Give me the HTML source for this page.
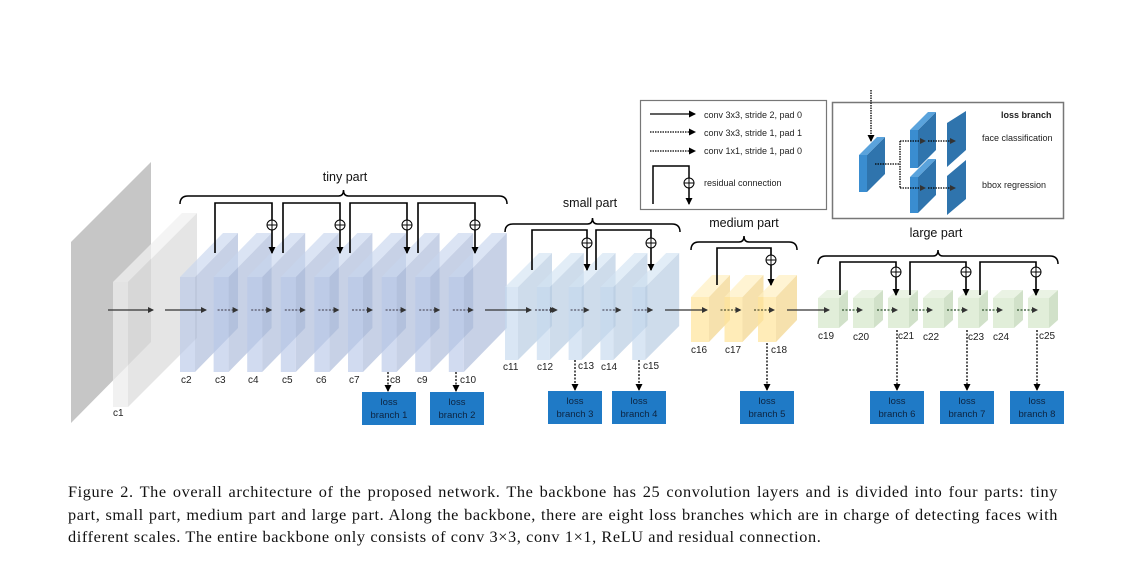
<!DOCTYPE html>
<html><head><meta charset="utf-8"><style>
body{margin:0;background:#fff;width:1124px;height:572px;overflow:hidden;position:relative}
svg{position:absolute;left:0;top:0}
svg text{font-family:"Liberation Sans",sans-serif;}
.cap{position:absolute;left:68px;top:481px;width:990px;font-family:"Liberation Serif",serif;font-size:16.3px;letter-spacing:0.6px;line-height:22.5px;color:#111}
.cap div{text-align:justify;text-align-last:justify;white-space:nowrap}
.cap div.last{text-align-last:left}
</style></head><body>
<svg id="s" width="1124" height="572" viewBox="0 0 1124 572">
<defs>
<marker id="ah" markerWidth="6" markerHeight="6" refX="5" refY="3" orient="auto" markerUnits="userSpaceOnUse"><path d="M0,0 L6,3 L0,6z" fill="#333"/></marker>
<marker id="ak" markerWidth="7" markerHeight="7" refX="6" refY="3.5" orient="auto" markerUnits="userSpaceOnUse"><path d="M0,0 L7,3.5 L0,7z" fill="#000"/></marker>
</defs>
<g id="shapes"></g>
<g id="lines" stroke="#000" fill="none"></g>
<g font-size="10" fill="#222">
<text x="113" y="416">c1</text>
<text x="181" y="383">c2</text><text x="215" y="383">c3</text><text x="248" y="383">c4</text><text x="282" y="383">c5</text><text x="316" y="383">c6</text><text x="349" y="383">c7</text><text x="390" y="383">c8</text><text x="417" y="383">c9</text><text x="460" y="383">c10</text>
<text x="503" y="370">c11</text><text x="537" y="370">c12</text><text x="578" y="369">c13</text><text x="601" y="370">c14</text><text x="643" y="369">c15</text>
<text x="691" y="353">c16</text><text x="725" y="353">c17</text><text x="771" y="353">c18</text>
<text x="818" y="339">c19</text><text x="853" y="340">c20</text><text x="898" y="339">c21</text><text x="923" y="340">c22</text><text x="968" y="340">c23</text><text x="993" y="340">c24</text><text x="1039" y="339">c25</text>
</g>
<g font-size="12.5" fill="#111" text-anchor="middle">
<text x="345" y="181">tiny  part</text>
<text x="590" y="207">small  part</text>
<text x="744" y="227">medium part</text>
<text x="936" y="237">large part</text>
</g>
<g font-size="9" fill="#222">
<text x="704" y="118">conv 3x3, stride 2, pad 0</text>
<text x="704" y="136">conv 3x3, stride 1, pad 1</text>
<text x="704" y="154">conv 1x1, stride 1, pad 0</text>
<text x="704" y="186">residual connection</text>
<text x="1001" y="118" font-weight="bold">loss branch</text>
<text x="982" y="141">face classification</text>
<text x="982" y="188">bbox regression</text>
</g>
<g font-size="9.5" fill="#0d2440" text-anchor="middle" id="lb"></g>
</svg>
<div class="cap"><div>Figure 2. The overall architecture of the proposed network. The backbone has 25 convolution layers and is divided into four parts: tiny</div><div>part, small part, medium part and large part. Along the backbone, there are eight loss branches which are in charge of detecting faces with</div><div class="last">different scales. The entire backbone only consists of conv 3×3, conv 1×1, ReLU and residual connection.</div></div>
<script>
var NS="http://www.w3.org/2000/svg";
var S=document.getElementById("shapes"),L=document.getElementById("lines"),LB=document.getElementById("lb");
function el(p,t,a){var e=document.createElementNS(NS,t);for(var k in a)e.setAttribute(k,a[k]);p.appendChild(e);return e;}
function poly(p,pts,fill,op){el(S,"polygon",{points:pts.map(function(q){return q.join(",")}).join(" "),fill:fill,"fill-opacity":op});}
function slab(x,y,w,h,dx,dy,front,side,top,op){
 poly(S,[[x+w,y],[x+w+dx,y+dy],[x+w+dx,y+h+dy],[x+w,y+h]],side,op);
 poly(S,[[x,y],[x+dx,y+dy],[x+w+dx,y+dy],[x+w,y]],top,op);
 poly(S,[[x,y],[x+w,y],[x+w,y+h],[x,y+h]],front,op);
}
poly(S,[[71,242],[151,162],[151,342],[71,423]],"#c6c6c6",1);
slab(113,282,15,125,69,-69,"#ececec","#dcdcdc","#f0f0f0",0.75);
var i;
for(i=0;i<9;i++){var x=180+i*33.6;slab(x,277,15,95,43,-44,"#b8c8e8","#a9b9d8","#c8d5ee",0.65);}
for(i=0;i<5;i++){var x=505+i*31.8;slab(x,287,13,73,34,-34,"#c4d9ee","#b3c9e0","#d2e3f3",0.65);}
for(i=0;i<3;i++){var x=691+i*33.5;slab(x,297,18,45,21,-22,"#ffe49a","#f2d48a","#fff0c0",0.7);}
for(i=0;i<7;i++){var x=818+i*35;slab(x,298,21,30,9,-8,"#dcebd2","#c9dcbf","#e6f1df",0.85);}
function line(x1,y1,x2,y2,o){var a={x1:x1,y1:y1,x2:x2,y2:y2,stroke:o.c||"#333","stroke-width":o.w||1.3};if(o.d)a["stroke-dasharray"]=o.d;if(o.m)a["marker-end"]="url(#"+o.m+")";el(L,"line",a);}
[[108,153],[165,206],[485,531],[665,707],[787,829]].forEach(function(a){line(a[0],310,a[1],310,{m:"ah"});});
for(i=1;i<9;i++){var x=180+i*33.6;line(x+4,310,x+24,310,{d:"2,1.5",m:"ah",c:"#556"});}
for(i=1;i<5;i++){var x=505+i*31.8;line(x+2,310,x+20,310,{d:"2,1.5",m:"ah",c:"#556"});}
line(535,310,555,310,{d:"2,1.5",m:"ah",c:"#556"});
for(i=1;i<3;i++){var x=691+i*33.5;line(x-4,310,x+16,310,{d:"2,1.5",m:"ah",c:"#553"});}
for(i=0;i<6;i++){var x=842+i*35;line(x,310,x+20,310,{d:"2,1.5",m:"ah",c:"#353"});}
function res(x1,x2,yt,yb,yc){el(L,"polyline",{points:x1+","+yb+" "+x1+","+yt+" "+x2+","+yt+" "+x2+","+yb,"stroke-width":1.6,"marker-end":"url(#ak)"});el(L,"circle",{cx:x2,cy:yc,r:5,fill:"#fff","stroke-width":1});line(x2-5,yc,x2+5,yc,{c:"#000",w:1});line(x2,yc-5,x2,yc+5,{c:"#000",w:1});}
[[215,272],[283,340],[350,407],[418,475]].forEach(function(a){res(a[0],a[1],203,253,225);});
[[532,587],[596,651]].forEach(function(a){res(a[0],a[1],230,270,243);});
res(717,771,248,285,260);
[[840,896],[910,966],[980,1036]].forEach(function(a){res(a[0],a[1],262,295,272);});
function brace(x1,x2,y){var m=(x1+x2)/2;el(L,"path",{d:"M"+x1+","+(y+8)+" Q"+x1+","+y+" "+(x1+8)+","+y+" L"+(m-5)+","+y+" Q"+m+","+y+" "+m+","+(y-6)+" Q"+m+","+y+" "+(m+5)+","+y+" L"+(x2-8)+","+y+" Q"+x2+","+y+" "+x2+","+(y+8),"stroke-width":1.5});}
brace(180,507,196);brace(505,680,224);brace(691,797,242);brace(818,1058,256);
function box(x,y,n,lx,ly1){line(lx,ly1,lx,y-1,{d:"2,1.5",m:"ak",c:"#000",w:1.3});el(S,"rect",{x:x,y:y,width:54,height:33,fill:"#1f7ac6"});var t=el(LB,"text",{x:x+27,y:y+13});t.textContent="loss";t=el(LB,"text",{x:x+27,y:y+26});t.textContent="branch "+n;}
box(362,392,1,388,372);box(430,392,2,456,372);
box(548,391,3,575,360);box(612,391,4,639,360);
box(740,391,5,767,343);
box(870,391,6,897,330);box(940,391,7,967,330);box(1010,391,8,1037,330);
el(L,"rect",{x:640.5,y:100.5,width:186,height:109,stroke:"#777","stroke-width":1.2});
line(650,114,695,114,{m:"ak",c:"#000"});line(650,132,695,132,{d:"1.5,1",m:"ak",c:"#000"});line(650,151,695,151,{d:"1.5,1",m:"ak",c:"#000"});
el(L,"polyline",{points:"653,204 653,166 689,166 689,204","stroke-width":1.5,"marker-end":"url(#ak)"});
el(L,"circle",{cx:689,cy:183,r:5,fill:"#fff","stroke-width":1});line(684,183,694,183,{c:"#000",w:1});line(689,178,689,188,{c:"#000",w:1});
el(L,"rect",{x:832.5,y:102.5,width:231,height:116,stroke:"#777","stroke-width":1.5});
slab(859,155,8,37,18,-18,"#3a8dd0","#2f74ad","#5aa3dc",1);
slab(910,130,8,38,18,-18,"#3a8dd0","#2f74ad","#5aa3dc",1);
slab(910,177,8,36,18,-18,"#3a8dd0","#2f74ad","#5aa3dc",1);
poly(S,[[947,123],[966,111],[966,150],[947,167]],"#2f74ad",1);
poly(S,[[947,176],[966,160],[966,199],[947,215]],"#2f74ad",1);
line(871,90,871,141,{d:"1.5,1",m:"ak",c:"#000"});
line(875,164,900,164,{d:"1.5,1",c:"#000"});line(900,141,900,188,{d:"1.5,1",c:"#000"});
line(900,141,925,141,{d:"1.5,1",m:"ah",c:"#000"});line(928,141,955,141,{d:"1.5,1",m:"ah",c:"#000"});
line(900,188,925,188,{d:"1.5,1",m:"ah",c:"#000"});line(928,188,955,188,{d:"1.5,1",m:"ah",c:"#000"});
</script>
</body></html>
